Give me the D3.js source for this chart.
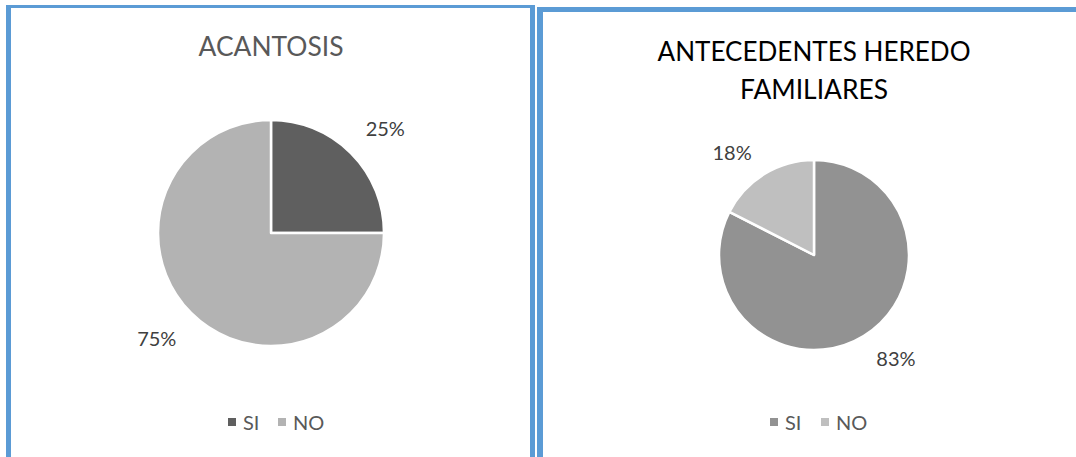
<!DOCTYPE html>
<html>
<head>
<meta charset="utf-8">
<script src="https://cdn.jsdelivr.net/npm/d3@7"></script>
<style>
  html, body { margin: 0; padding: 0; background: #fff; }
  svg { display: block; }
  text { font-family: Lato, "Open Sans", sans-serif; }
</style>
</head>
<body>
<svg id="chart" width="1076" height="457"></svg>
<script>
// ---- data ----
const categories = ["SI", "NO"];
const acantosisValues = [25, 75];
const acantosisTitle = ["ACANTOSIS"];
const acantosisColors = ["#5f5f5f", "#b3b3b3"];
const antecedentesValues = [82.5, 17.5];
const antecedentesTitle = ["ANTECEDENTES HEREDO", "FAMILIARES"];
const antecedentesColors = ["#929292", "#bfbfbf"];

const svg = d3.select("#chart");
const border = "#5b9bd5";

// panel frames
svg.append("rect").attr("x", 6).attr("y", 5).attr("width", 529).attr("height", 3).attr("fill", border);
svg.append("rect").attr("x", 6).attr("y", 5).attr("width", 5).attr("height", 460).attr("fill", border);
svg.append("rect").attr("x", 530).attr("y", 5).attr("width", 5).attr("height", 460).attr("fill", border);
svg.append("rect").attr("x", 537).attr("y", 7).attr("width", 560).attr("height", 5).attr("fill", border);
svg.append("rect").attr("x", 537).attr("y", 7).attr("width", 6).attr("height", 460).attr("fill", border);

function drawPie(cfg) {
  const g = svg.append("g");
  // title
  cfg.title.forEach((t, i) => {
    g.append("text")
      .attr("x", cfg.cx).attr("y", cfg.titleY + i * cfg.titleGap)
      .attr("text-anchor", "middle")
      .attr("font-size", cfg.titleSize)
      .attr("font-weight", cfg.titleWeight)
      .attr("fill", cfg.titleColor)
      .attr("textLength", cfg.titleLengths[i])
      .attr("lengthAdjust", "spacingAndGlyphs")
      .text(t);
  });

  const pie = d3.pie().sort(null).value(d => d.v);
  const data = pie(categories.map((c, i) => ({ c, v: cfg.values[i] })));
  const color = d3.scaleOrdinal().domain(categories).range(cfg.colors);
  const arc = d3.arc().innerRadius(0).outerRadius(cfg.r);
  const total = d3.sum(cfg.values);
  const labelPos = d => {
    const a = (d.startAngle + d.endAngle) / 2;
    return [Math.sin(a) * cfg.r * cfg.kx, -Math.cos(a) * cfg.r * cfg.ky];
  };

  const pg = g.append("g").attr("transform", `translate(${cfg.cx},${cfg.cy})`);
  pg.selectAll("path").data(data).join("path")
    .attr("d", arc)
    .attr("fill", d => color(d.data.c))
    .attr("stroke", "#fff")
    .attr("stroke-width", 2.5)
    .attr("stroke-linejoin", "round");

  pg.selectAll("text.lbl").data(data).join("text")
    .attr("class", "lbl")
    .attr("transform", d => `translate(${labelPos(d)})`)
    .attr("text-anchor", "middle")
    .attr("dominant-baseline", "central")
    .attr("font-size", 20)
    .attr("fill", "#404040")
    .text(d => Math.round(d.data.v / total * 100) + "%");

  // legend
  const lg = g.append("g").attr("transform", `translate(${cfg.legendX},${cfg.legendY})`);
  const item = lg.selectAll("g").data(categories).join("g")
    .attr("transform", (d, i) => `translate(${i * cfg.legendStep},0)`);
  item.append("rect").attr("x", 0).attr("y", -4).attr("width", 8).attr("height", 8)
    .attr("fill", d => color(d));
  item.append("text").attr("x", 15).attr("y", 0)
    .attr("dominant-baseline", "central")
    .attr("font-size", 20).attr("fill", "#595959")
    .text(d => d);
}

drawPie({
  values: acantosisValues, colors: acantosisColors, title: acantosisTitle,
  cx: 271, cy: 233, r: 113, kx: 1.43, ky: 1.31,
  titleY: 56, titleGap: 0, titleSize: 27, titleWeight: 400, titleColor: "#595959",
  titleLengths: [145],
  legendX: 228, legendY: 422, legendStep: 50
});

drawPie({
  values: antecedentesValues, colors: antecedentesColors, title: antecedentesTitle,
  cx: 814, cy: 255, r: 95, kx: 1.65, ky: 1.27,
  titleY: 61, titleGap: 38, titleSize: 27, titleWeight: 400, titleColor: "#000",
  titleLengths: [313, 148],
  legendX: 770, legendY: 422, legendStep: 51
});
</script>
</body>
</html>
